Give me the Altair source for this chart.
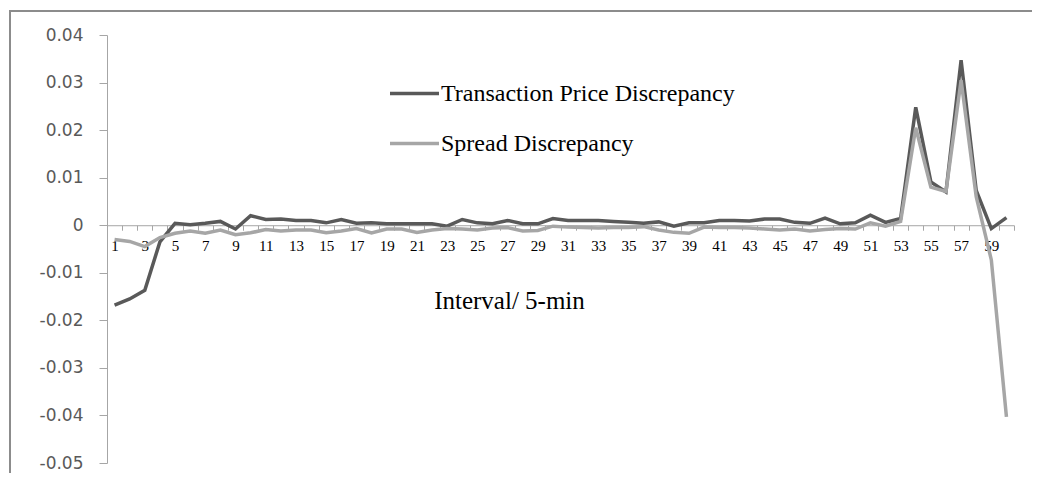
import altair as alt
import pandas as pd

intervals = list(range(1, 61))

transaction = [-0.0168, -0.0155, -0.0137, -0.0035, 0.0004, 0.0001, 0.0004, 0.0008, -0.0008, 0.0020,
               0.0012, 0.0013, 0.0010, 0.0010, 0.0005, 0.0012, 0.0004, 0.0005, 0.0003, 0.0003,
               0.0003, 0.0003, -0.0002, 0.0012, 0.0005, 0.0003, 0.0010, 0.0003, 0.0003, 0.0014,
               0.0010, 0.0010, 0.0010, 0.0008, 0.0006, 0.0004, 0.0007, -0.0002, 0.0005, 0.0005,
               0.0010, 0.0010, 0.0009, 0.0013, 0.0013, 0.0006, 0.0004, 0.0015, 0.0003, 0.0005,
               0.0021, 0.0006, 0.0014, 0.0248, 0.0091, 0.0070, 0.0347, 0.0073, -0.0007, 0.0016]

spread = [-0.0030, -0.0034, -0.0045, -0.0026, -0.0017, -0.0012, -0.0017, -0.0010, -0.0020, -0.0016,
          -0.0009, -0.0012, -0.0010, -0.0010, -0.0016, -0.0012, -0.0007, -0.0016, -0.0008, -0.0008,
          -0.0015, -0.0010, -0.0007, -0.0008, -0.0010, -0.0006, -0.0005, -0.0012, -0.0011, -0.0002,
          -0.0004, -0.0005, -0.0006, -0.0005, -0.0005, -0.0003, -0.0010, -0.0015, -0.0017, -0.0004,
          -0.0005, -0.0005, -0.0006, -0.0008, -0.0010, -0.0008, -0.0012, -0.0009, -0.0007, -0.0008,
          0.0005, -0.0002, 0.0008, 0.0205, 0.0080, 0.0071, 0.0305, 0.0060, -0.0073, -0.0403]

series_names = ["Transaction Price Discrepancy", "Spread Discrepancy"]
series_colors = ["#595959", "#a6a6a6"]
y_ticks = [-0.05, -0.04, -0.03, -0.02, -0.01, 0, 0.01, 0.02, 0.03, 0.04]
x_ticks = [i + 0.5 for i in range(0, 61)]

df = pd.DataFrame({
    "interval": intervals * 2,
    "value": transaction + spread,
    "series": [series_names[0]] * 60 + [series_names[1]] * 60,
})

W, H = 907, 428
y0_px = H * 0.04 / 0.09

x_enc = alt.X(
    "interval:Q",
    scale=alt.Scale(domain=[0.5, 60.5], nice=False, zero=False),
    axis=alt.Axis(
        values=x_ticks,
        labelExpr="((datum.value - 0.5) % 2 == 0 && datum.value < 60) ? toString(datum.value + 0.5) : ''",
        labelOffset=W / 60 / 2,
        offset=-(H - y0_px),
        tickSize=5,
        tickColor="#a6a6a6",
        domainColor="#a6a6a6",
        labelFont="Liberation Serif",
        labelFontSize=15,
        labelColor="#000000",
        labelPadding=8,
        labelOverlap=False,
        labelFlush=False,
        grid=False,
        title="Interval/ 5-min",
        titleFont="Liberation Serif",
        titleFontSize=25,
        titleFontWeight="normal",
        titleColor="#000000",
        titleX=402,
        titleY=75,
        titleAlign="center",
        titleBaseline="middle",
    ),
)

y_enc = alt.Y(
    "value:Q",
    scale=alt.Scale(domain=[-0.05, 0.04], nice=False, zero=False),
    axis=alt.Axis(
        values=y_ticks,
        labelExpr="toString(datum.value)",
        tickSize=8,
        tickColor="#a6a6a6",
        domainColor="#a6a6a6",
        labelFont="DejaVu Sans",
        labelFontSize=17,
        labelColor="#595959",
        labelPadding=16,
        grid=False,
        title=None,
    ),
)

color_enc = alt.Color(
    "series:N",
    scale=alt.Scale(domain=series_names, range=series_colors),
    legend=alt.Legend(
        orient="none",
        legendX=281,
        legendY=32,
        title=None,
        symbolType="stroke",
        symbolSize=2400,
        symbolStrokeWidth=3.5,
        labelFont="Liberation Serif",
        labelFontSize=24,
        labelColor="#000000",
        labelOffset=0,
        labelLimit=600,
        rowPadding=11,
    ),
)

line_t = alt.Chart(df).transform_filter(
    alt.datum.series == series_names[0]
).mark_line(strokeWidth=3.5).encode(x=x_enc, y=y_enc, color=color_enc)

line_s = alt.Chart(df).transform_filter(
    alt.datum.series == series_names[1]
).mark_line(strokeWidth=3.5).encode(x=x_enc, y=y_enc, color=color_enc)

frame_df = pd.DataFrame({"a": [0]})
frame = alt.Chart(frame_df).mark_rect(
    filled=False, stroke="#8c8c8c", strokeWidth=2
).encode(
    x=alt.value(-97), x2=alt.value(1100), y=alt.value(-24), y2=alt.value(600)
)

chart = alt.layer(frame, line_t, line_s).properties(
    width=W,
    height=H,
    autosize=alt.AutoSizeParams(type="none"),
    padding={"left": 99, "top": 27, "right": 18, "bottom": 10},
).configure_view(stroke="transparent")

chart.save("out.html", embed_options={"renderer": "svg", "actions": False})
